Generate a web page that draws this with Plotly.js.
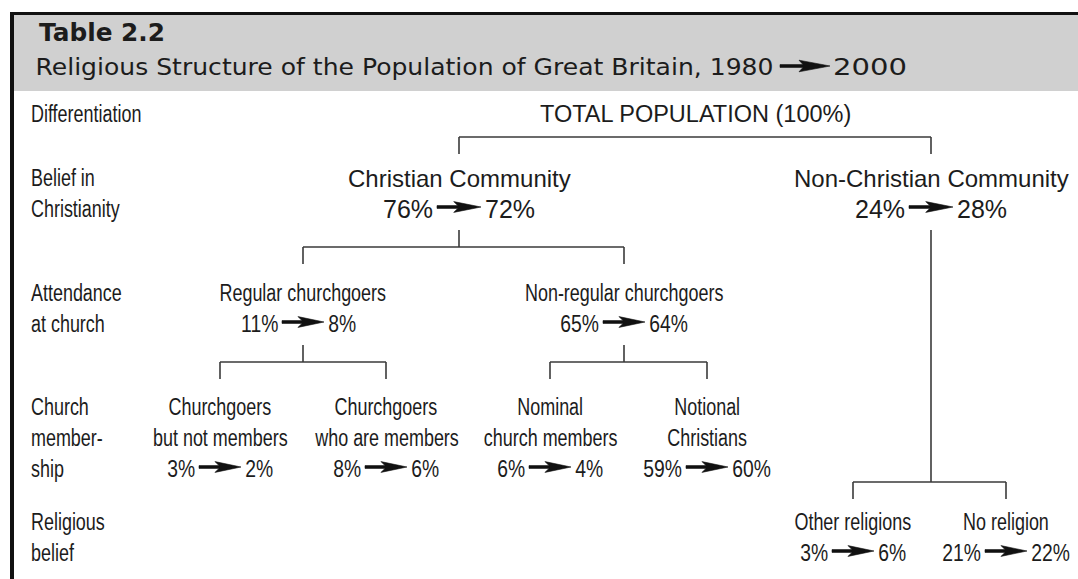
<!DOCTYPE html>
<html><head><meta charset="utf-8">
<script src="https://cdn.plot.ly/plotly-3.0.1.min.js"></script>
<style>html,body{margin:0;padding:0;background:#fff}#chart{width:1078px;height:579px}</style>
</head><body><div id="chart"></div>
<script>
// ---------------- data ----------------
const tableLabel = "Table 2.2";
const titleText = "Religious Structure of the Population of Great Britain, 1980";
const titleEnd = "2000";
const rowLabels = [["Differentiation"], ["Belief in", "Christianity"], ["Attendance", "at church"], ["Church", "member-", "ship"], ["Religious", "belief"]];
const nodeNames = [["TOTAL POPULATION (100%)"], ["Christian Community"], ["Non-Christian Community"],
  ["Regular churchgoers"], ["Non-regular churchgoers"],
  ["Churchgoers", "but not members"], ["Churchgoers", "who are members"], ["Nominal", "church members"], ["Notional", "Christians"],
  ["Other religions"], ["No religion"]];
const share1980 = [null, 76, 24, 11, 65, 3, 8, 6, 59, 3, 21];
const share2000 = [null, 72, 28, 8, 64, 2, 6, 4, 60, 6, 22];
const parentOf = [-1, 0, 0, 1, 1, 3, 3, 4, 4, 2, 2];
const rowOf = [0, 1, 1, 2, 2, 3, 3, 3, 3, 4, 4];

// ---------------- layout config (positions / styles) ----------------
const nodeX = [695, 459, 931, 303, 624, 220, 386, 550, 707, 853, 1006];
const rowLineY = [[114], [178, 209], [293, 324], [407, 438, 469], [522, 553]];
const barY = {0: 137, 1: 247, 3: 362, 4: 362, 2: 482};
const dropLen = 17, stemGap = 21;
const BASE = '"Liberation Sans", Arial, sans-serif';
const INK = '#1c1c1c';
const NARROW_SIZE = 23, NARROW_FACTOR = 0.78, PCT_FACTOR = 0.84;

const measureCtx = document.createElement('canvas').getContext('2d');
function textWidth(text, size) {
  measureCtx.font = size + 'px "Liberation Sans", Arial, sans-serif';
  return measureCtx.measureText(text).width;
}

const annotations = [];
const squeeze = [];
function addText(x, y, text, font, size, anchor, sq) {
  annotations.push({x: x, y: y, xref: 'x', yref: 'y', text: text, showarrow: false,
    xanchor: anchor || 'center', align: anchor || 'center', yanchor: 'middle',
    font: {family: font, size: size, color: INK}});
  squeeze.push(sq || null);
}

// arrows
const arrowXs = [], arrowYs = [];
function addArrow(cx, cy, len, hh) {
  const h = len / 2, b = h - 0.62 * len;
  hh = hh || 5.4;
  const pts = [[-h, -1.4], [b + 4, -1.4], [b, -hh], [h, 0], [b, hh], [b + 4, 1.4], [-h, 1.4], [-h, -1.4]];
  pts.forEach(p => { arrowXs.push(cx + p[0]); arrowYs.push(cy + p[1]); });
  arrowXs.push(null); arrowYs.push(null);
}

// row labels
rowLabels.forEach((lines, r) => lines.forEach((t, i) => addText(29, rowLineY[r][i], t, BASE, NARROW_SIZE, 'left', {factor: NARROW_FACTOR})));

// nodes
nodeNames.forEach((lines, n) => {
  const r = rowOf[n];
  const wide = r <= 1;
  const size = wide ? (n === 0 ? 23.5 : 24) : NARROW_SIZE;
  lines.forEach((t, i) => addText(nodeX[n], rowLineY[r][i], t, BASE, size, 'center', wide ? null : {factor: NARROW_FACTOR}));
  if (share1980[n] !== null) {
    const y = rowLineY[r][lines.length];
    const len = wide ? 44 : 42;
    const ps = wide ? 25 : NARROW_SIZE;
    const f = wide ? 1 : PCT_FACTOR;
    const sq = wide ? null : {factor: PCT_FACTOR};
    const rightText = share2000[n] + '%';
    const rightEdge = nodeX[n] + len / 2 + 6 + textWidth(rightText, ps) * f;
    addText(nodeX[n] - len / 2 - 2, y, share1980[n] + '%', BASE, ps, 'right', sq);
    addText(rightEdge, y, rightText, BASE, ps, 'right', sq);
    addArrow(nodeX[n], y - 2, len);
  }
});

// connectors
const lx = [], ly = [];
function seg(x0, y0, x1, y1) { lx.push(x0, x1, null); ly.push(y0, y1, null); }
Object.keys(barY).forEach(k => {
  const p = +k;
  const kids = parentOf.map((q, i) => q === p ? i : -1).filter(i => i >= 0);
  const by = barY[p];
  const xs = kids.map(i => nodeX[i]);
  if (p !== 0) {
    const lastY = rowLineY[rowOf[p]][nodeNames[p].length];
    seg(nodeX[p], lastY + stemGap, nodeX[p], by);
  }
  seg(Math.min(...xs), by, Math.max(...xs), by);
  kids.forEach(i => seg(nodeX[i], by, nodeX[i], by + dropLen));
});

// header
addText(37, 33, '<b>' + tableLabel + '</b>', '"DejaVu Sans", sans-serif', 24, 'left', {width: 126});
addText(776, 67, titleText, '"DejaVu Sans", sans-serif', 23, 'right', {width: 738});
addText(831, 67, titleEnd, '"DejaVu Sans", sans-serif', 23, 'left', {width: 74});
addArrow(805, 66, 50, 5.8);

const traces = [
  {type: 'scatter', mode: 'lines', x: lx, y: ly, line: {color: '#3a3a3a', width: 1.6}, hoverinfo: 'skip', connectgaps: false},
  {type: 'scatter', mode: 'lines', x: arrowXs, y: arrowYs, fill: 'toself', fillcolor: '#111', line: {color: '#111', width: 0.6}, hoverinfo: 'skip', connectgaps: false}
];

const layout = {
  width: 1078, height: 579, margin: {l: 0, r: 0, t: 0, b: 0},
  paper_bgcolor: '#ffffff', plot_bgcolor: '#ffffff', showlegend: false,
  xaxis: {range: [0, 1078], visible: false, fixedrange: true},
  yaxis: {range: [579, 0], visible: false, fixedrange: true},
  shapes: [
    {type: 'rect', xref: 'x', yref: 'y', x0: 14, x1: 1078, y0: 15, y1: 91, fillcolor: '#d0d0d0', line: {width: 0}, layer: 'below'},
    {type: 'line', xref: 'x', yref: 'y', x0: 10, x1: 1078, y0: 13.5, y1: 13.5, line: {color: '#111', width: 3}},
    {type: 'line', xref: 'x', yref: 'y', x0: 12, x1: 12, y0: 12, y1: 579, line: {color: '#111', width: 4}}
  ],
  annotations: annotations
};
Plotly.newPlot('chart', traces, layout, {staticPlot: true, displayModeBar: false}).then(gd => {
  gd.querySelectorAll('g.annotation').forEach(g => {
    const idx = +g.getAttribute('data-index');
    const s = squeeze[idx];
    if (!s) return;
    const t = g.querySelector('text.annotation-text');
    if (!t) return;
    const w = t.getComputedTextLength();
    const target = s.width ? s.width : w * s.factor;
    t.setAttribute('textLength', target);
    t.setAttribute('lengthAdjust', 'spacingAndGlyphs');
  });
});
</script></body></html>
